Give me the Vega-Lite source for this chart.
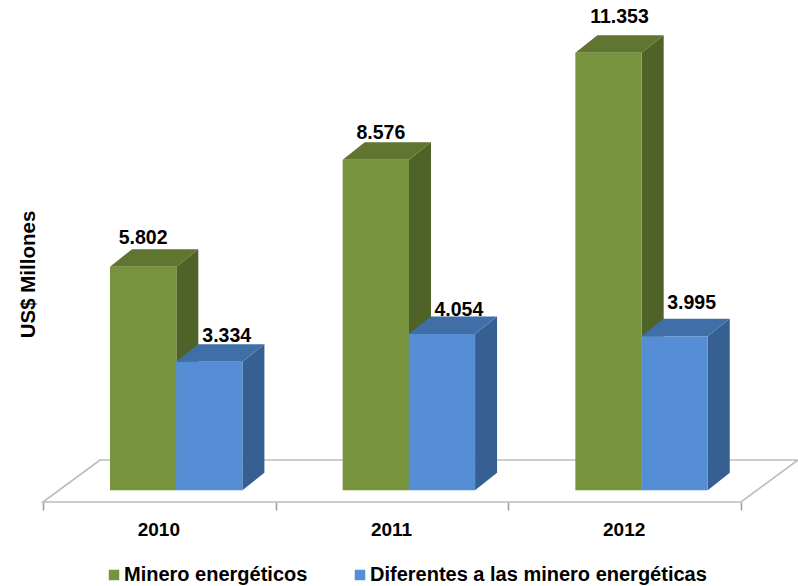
{
"$schema":"https://vega.github.io/schema/vega-lite/v6.json",
"width":798,"height":502,"autosize":"none",
"padding":{"left":0,"top":0,"right":0,"bottom":84},
"background":"white",
"config":{"view":{"stroke":null},"text":{"font":"Liberation Sans"}},
"datasets":{
"barras":[
{"anio":2010,"serie":"Minero energéticos","valor":5802},
{"anio":2010,"serie":"Diferentes a las minero energéticas","valor":3334},
{"anio":2011,"serie":"Minero energéticos","valor":8576},
{"anio":2011,"serie":"Diferentes a las minero energéticas","valor":4054},
{"anio":2012,"serie":"Minero energéticos","valor":11353},
{"anio":2012,"serie":"Diferentes a las minero energéticas","valor":3995}],
"suelo":[{"elemento":"suelo"}]
},
"layer":[
{"data":{"name":"suelo"},
 "transform":[{"calculate":"[0,1]","as":"d"},{"flatten":["d"]},
  {"calculate":"datum.d*0.245","as":"xa"},{"calculate":"3+datum.d*0.245","as":"xb"},{"calculate":"-303+datum.d*1089","as":"yy"}],
 "mark":{"type":"area","orient":"horizontal","fill":"white","stroke":"#bdbdbd","strokeWidth":1.6},
 "encoding":{
  "x":{"field":"xa","type":"quantitative","scale":{"domain":[-0.1848,3.2449],"nice":false,"zero":false},
   "axis":{"title":null,"grid":false,"domain":false,"values":[0,0.5,1,1.5,2,2.5,3],"tickColor":"#9a9a9a","tickWidth":1.5,"tickSize":8,
    "tickOpacity":{"condition":{"test":"datum.value%1==0","value":1},"value":0},
    "labelExpr":"datum.value%1==0 ? '' : ''+(2010+floor(datum.value))","labelFont":"Liberation Sans","labelFontWeight":"bold","labelFontSize":19,"labelColor":"black","labelPadding":10,"labelOffset":-1,"labelOverlap":false,"labelFlush":false}},
  "x2":{"field":"xb"},
  "y":{"field":"yy","type":"quantitative","scale":{"domain":[-303,12719],"nice":false,"zero":false},
   "axis":{"title":"US$ Millones","grid":false,"domain":false,"ticks":false,"labels":false,"titleFont":"Liberation Sans","titleFontWeight":"bold","titleFontSize":20.5,"titleColor":"black","titleX":38,"titleY":274,"titleAlign":"center","titleAngle":-90}}
 }},
{"data":{"name":"barras"},
 "transform":[
  {"calculate":"datum.anio-2010+(datum.serie=='Minero energéticos'?0.288:0.572)","as":"x0"},
  {"calculate":"[0,1]","as":"d"},{"flatten":["d"]},
  {"calculate":"datum.x0+0.285+datum.d*0.0946","as":"xs"},
  {"calculate":"datum.valor+datum.d*454","as":"ya"},
  {"calculate":"datum.d*454","as":"yb"},
  {"calculate":"datum.serie=='Minero energéticos'?'#4f6228':'#376092'","as":"tono"}],
 "mark":{"type":"area","orient":"vertical"},
 "encoding":{
  "x":{"field":"xs","type":"quantitative"},
  "y":{"field":"ya","type":"quantitative"},
  "y2":{"field":"yb"},
  "fill":{"field":"tono","type":"nominal","scale":null},
  "detail":[{"field":"anio"},{"field":"serie"}]
 }},
{"data":{"name":"barras"},
 "transform":[
  {"calculate":"datum.anio-2010+(datum.serie=='Minero energéticos'?0.288:0.572)","as":"x0"},
  {"calculate":"[0,1]","as":"d"},{"flatten":["d"]},
  {"calculate":"datum.x0+datum.d*0.0946","as":"xa"},
  {"calculate":"datum.x0+0.285+datum.d*0.0946","as":"xb"},
  {"calculate":"datum.valor+datum.d*454","as":"ya"},
  {"calculate":"datum.serie=='Minero energéticos'?'#5f7530':'#3f6fa6'","as":"tono"}],
 "mark":{"type":"area","orient":"horizontal"},
 "encoding":{
  "x":{"field":"xa","type":"quantitative"},
  "x2":{"field":"xb"},
  "y":{"field":"ya","type":"quantitative"},
  "fill":{"field":"tono","type":"nominal","scale":null},
  "detail":[{"field":"anio"},{"field":"serie"}]
 }},
{"data":{"name":"barras"},
 "transform":[
  {"calculate":"datum.anio-2010+(datum.serie=='Minero energéticos'?0.288:0.572)","as":"x0"},
  {"calculate":"datum.x0+0.285","as":"x1"},
  {"calculate":"0","as":"base"}],
 "mark":{"type":"rect"},
 "encoding":{
  "x":{"field":"x0","type":"quantitative"},
  "x2":{"field":"x1"},
  "y":{"field":"valor","type":"quantitative"},
  "y2":{"field":"base"},
  "color":{"field":"serie","type":"nominal",
   "scale":{"domain":["Minero energéticos","Diferentes a las minero energéticas"],"range":["#77933c","#558ed5"]},
   "legend":{"title":null,"orient":"none","legendX":104,"legendY":565,"direction":"horizontal","symbolType":"square","symbolSize":110,"symbolStrokeWidth":0,"labelFont":"Liberation Sans","labelFontWeight":"bold","labelFontSize":20,"labelColor":"black","labelOffset":0,"columnPadding":42,"padding":0,"labelLimit":400}}
 }},
{"data":{"name":"barras"},
 "transform":[
  {"calculate":"datum.anio-2010+(datum.serie=='Minero energéticos'?0.288:0.572)+0.1425","as":"xc"},
  {"calculate":"{'5802':[0,11],'3334':[17.5,8],'8576':[5,9.5],'4054':[17,6.5],'11353':[11,18],'3995':[17,16]}[datum.valor+'']","as":"aj"},
  {"calculate":"datum.xc+datum.aj[0]/232.67","as":"xt"},
  {"calculate":"datum.valor+454+datum.aj[1]/0.03855","as":"yt"},
  {"calculate":"replace(format(datum.valor,','),',','.')","as":"etiqueta"}],
 "mark":{"type":"text","font":"Liberation Sans","fontWeight":"bold","fontSize":19.5,"color":"black","align":"center","baseline":"middle"},
 "encoding":{
  "x":{"field":"xt","type":"quantitative"},
  "y":{"field":"yt","type":"quantitative"},
  "text":{"field":"etiqueta","type":"nominal"}
 }}
]
}
